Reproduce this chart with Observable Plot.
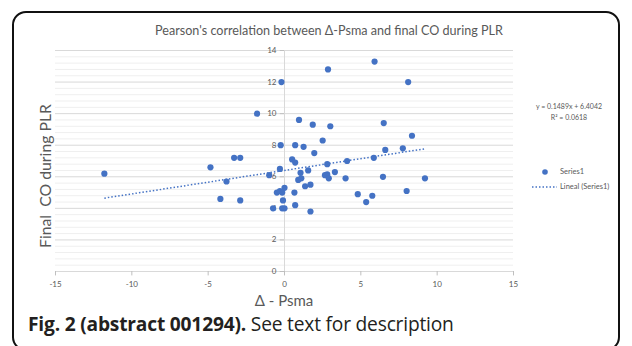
<!DOCTYPE html>
<html>
<head>
<meta charset="utf-8">
<script src="https://cdn.jsdelivr.net/npm/d3@7"></script>
<script src="https://cdn.jsdelivr.net/npm/@observablehq/plot@0.6"></script>
<style>
  html, body { margin:0; padding:0; background:#fff; }
  #wrap { position:relative; width:632px; height:346px; overflow:hidden; font-family: Lato, "Liberation Sans", sans-serif; }
  #frame { position:absolute; left:12px; top:11px; width:608px; height:340px; border:2px solid #111; border-radius:14px; box-sizing:border-box; }
  #chart { position:absolute; left:0; top:0; }
  .t { position:absolute; color:#595959; white-space:nowrap; }
  #title { left:0; width:632px; top:23px; text-align:center; font-size:12.6px; padding-left:26px; box-sizing:border-box; }
  #ytitle { left:44px; top:176px; font-size:15.8px; transform:translate(-50%,-50%) rotate(-90deg); }
  #xtitle { left:284px; top:300px; font-size:15px; transform:translate(-50%,-50%); }
  #eq { left:569px; top:101px; font-size:7px; text-align:center; transform:translateX(-50%); line-height:10.5px; }
  #leg1 { left:560px; top:167px; font-size:7.5px; }
  #leg2 { left:560px; top:182px; font-size:7.5px; }
  #caption { left:28px; top:310px; font-size:19.2px; color:#231f20; font-family:"Open Sans", sans-serif; letter-spacing:-0.2px; }
  #caption b { font-weight:700; }
</style>
</head>
<body>
<div id="wrap">
  <div id="frame"></div>
  <div id="chart"></div>
  <div class="t" id="title">Pearson's correlation between Δ-Psma and final CO during PLR</div>
  <div class="t" id="ytitle">Final&nbsp;&nbsp;CO during PLR</div>
  <div class="t" id="xtitle">Δ - Psma</div>
  <div class="t" id="eq">y = 0.1489x + 6.4042<br>R² = 0.0618</div>
  <svg id="legsvg" style="position:absolute;left:0;top:0" width="632" height="346"></svg>
  <div class="t" id="leg1">Series1</div>
  <div class="t" id="leg2">Lineal (Series1)</div>
  <div class="t" id="caption"><b>Fig. 2 (abstract 001294).</b> See text for description</div>
</div>
<script>
// data
const deltaPsma = [-11.8, -4.85, -3.3, -2.9, -3.8, -1.8, -1.0, -0.3, -0.2, -0.25,
  0.5, 0.7, 0.7, 0.95, 1.25, 1.85, 1.95, 1.05, 0.9, 1.1,
  1.35, 1.7, 1.55, 0.0, -4.2, -2.9, -0.75, -0.15, 0.0, -0.1,
  -0.5, -0.3, -0.15, 0.65, 0.7, 1.7, 2.5, 2.8, 3.3, 2.8,
  2.65, 2.9, 2.85, 5.9, 8.1, 3.0, 6.5, 8.35, 6.6, 7.75,
  5.85, 4.1, 4.0, 6.45, 9.2, 8.0, 4.8, 5.75, 5.35];
const finalCO = [6.2, 6.6, 7.2, 7.2, 5.7, 10.0, 6.1, 6.5, 12.0, 8.0,
  7.1, 6.9, 8.0, 9.6, 7.9, 9.3, 7.5, 6.25, 5.8, 5.9,
  5.4, 5.5, 6.4, 5.3, 4.6, 4.5, 4.0, 4.0, 4.0, 4.5,
  5.0, 5.1, 5.0, 5.0, 4.2, 3.8, 8.3, 6.8, 6.3, 6.15,
  6.1, 5.9, 12.8, 13.3, 12.0, 9.2, 9.4, 8.6, 7.7, 7.8,
  7.2, 7.0, 5.9, 6.0, 5.9, 5.1, 4.9, 4.8, 4.4];
const trendSlope = 0.1489;
const trendIntercept = 6.4042;
const xTicks = [-15, -10, -5, 0, 5, 10, 15];
const yTicks = [0, 2, 4, 6, 8, 10, 12, 14];
const yMinorTicks = d3.range(0, 36).map(i => +(i * 0.4).toFixed(1)).filter(v => v <= 14 && Math.abs(v / 2 - Math.round(v / 2)) > 1e-6);

const points = deltaPsma.map((x, i) => ({x, y: finalCO[i]}));
const [xmin, xmax] = d3.extent(deltaPsma);
const trend = [xmin, xmax].map(x => ({x, y: trendSlope * x + trendIntercept}));

const blue = "#4472C4";
const grey = "#595959";

const plot = Plot.plot({
  width: 632,
  height: 346,
  marginLeft: 55,
  marginRight: 119,
  marginTop: 50,
  marginBottom: 75,
  style: {background: "transparent", fontFamily: "Lato, sans-serif"},
  x: {type: "linear", domain: [-15, 15], axis: null},
  y: {type: "linear", domain: [0, 14], axis: null},
  marks: [
    Plot.ruleY(yMinorTicks, {stroke: "#efefef", strokeWidth: 1}),
    Plot.ruleY(yTicks.filter(d => d > 0), {stroke: "#d9d9d9", strokeWidth: 1}),
    Plot.ruleX([0], {stroke: "#d9d9d9", strokeWidth: 1}),
    Plot.ruleY([0], {stroke: "#d9d9d9", strokeWidth: 1}),
    Plot.ruleY(yTicks, {x1: -0.28, x2: 0, stroke: "#bfbfbf"}),
    Plot.ruleX(xTicks, {y1: 0, y2: -0.28, stroke: "#bfbfbf"}),
    Plot.text(yTicks, {x: 0, y: d => d, text: d => String(d), dx: -8, textAnchor: "end", fill: grey, fontSize: 8}),
    Plot.text(xTicks, {x: d => d, y: 0, text: d => String(d), dy: 13, fill: grey, fontSize: 8}),
    Plot.line(trend, {x: "x", y: "y", stroke: blue, strokeWidth: 1.5, strokeDasharray: "1.5 2", strokeLinecap: "butt"}),
    Plot.dot(points, {x: "x", y: "y", r: 3.1, fill: blue, stroke: "none"})
  ]
});
document.getElementById("chart").appendChild(plot);

// legend glyphs
const leg = d3.select("#legsvg");
leg.append("circle").attr("cx", 545).attr("cy", 172).attr("r", 2.8).attr("fill", blue);
leg.append("line").attr("x1", 532).attr("x2", 557).attr("y1", 187).attr("y2", 187)
  .attr("stroke", blue).attr("stroke-width", 1.4).attr("stroke-dasharray", "1.5 2");
</script>
</body>
</html>
